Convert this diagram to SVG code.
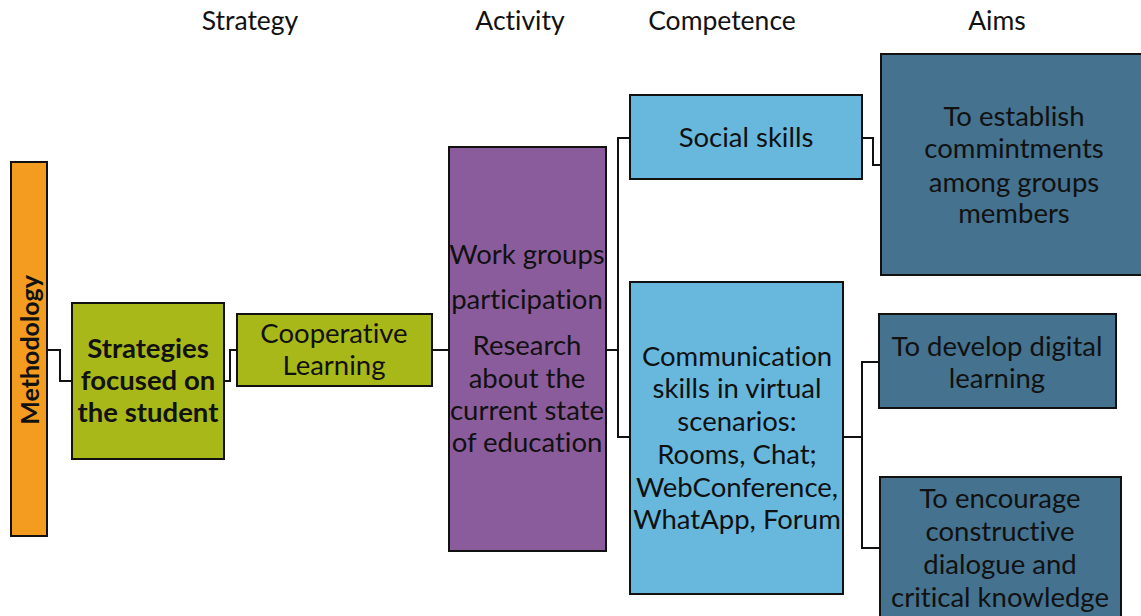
<svg xmlns="http://www.w3.org/2000/svg" width="1141" height="616" viewBox="0 0 1141 616">
<style>
text{font-family:Lato,"Open Sans","Liberation Sans",sans-serif;fill:#111;text-anchor:middle;font-variant-ligatures:none}
.h{font-size:26.5px}
.t{font-size:27.5px}
.b{font-weight:bold}
.n{stroke:#111;stroke-width:2}
.c{fill:none;stroke:#111;stroke-width:2}
</style>
<g id="headers">
<text class="h" x="250" y="30">Strategy</text>
<text class="h" x="520" y="30">Activity</text>
<text class="h" x="722" y="30">Competence</text>
<text class="h" x="997" y="30">Aims</text>
</g>
<g id="connectors">
<polyline class="c" points="47,350 60,350 60,381 72,381"/>
<polyline class="c" points="224,381 230,381 230,350 237,350"/>
<polyline class="c" points="432,350 449,350"/>
<polyline class="c" points="606,350 618,350"/>
<polyline class="c" points="630,138 618,138 618,437 630,437"/>
<polyline class="c" points="862,138 873,138 873,165 881,165"/>
<polyline class="c" points="843,437 862,437"/>
<polyline class="c" points="879,362 862,362 862,548 880,548"/>
</g>
<g id="methodology">
<rect class="n" x="11" y="162" width="36" height="374" fill="#F39C1F"/>
<text class="b" x="0" y="0" font-size="25" transform="translate(39,350) rotate(-90)">Methodology</text>
</g>
<g id="strategies">
<rect class="n" x="72" y="303" width="152" height="156" fill="#A8B819"/>
<text class="t b" x="148" y="358">Strategies</text>
<text class="t b" x="148" y="390">focused on</text>
<text class="t b" x="148" y="422">the student</text>
</g>
<g id="cooperative">
<rect class="n" x="237" y="314" width="195" height="72" fill="#A8B819"/>
<text class="t" x="334" y="343">Cooperative</text>
<text class="t" x="334" y="375">Learning</text>
</g>
<g id="activity">
<rect class="n" x="449" y="147" width="157" height="404" fill="#8B5C9C"/>
<text class="t" x="527" y="264">Work groups</text>
<text class="t" x="527" y="309">participation</text>
<text class="t" x="527" y="355">Research</text>
<text class="t" x="527" y="388">about the</text>
<text class="t" x="527" y="420">current state</text>
<text class="t" x="527" y="452">of education</text>
</g>
<g id="social">
<rect class="n" x="630" y="95" width="232" height="84" fill="#68B8DD"/>
<text class="t" x="746" y="147">Social skills</text>
</g>
<g id="communication">
<rect class="n" x="630" y="282" width="213" height="312" fill="#68B8DD"/>
<text class="t" x="737" y="366">Communication</text>
<text class="t" x="737" y="398">skills in virtual</text>
<text class="t" x="737" y="431">scenarios:</text>
<text class="t" x="737" y="464">Rooms, Chat;</text>
<text class="t" x="737" y="497">WebConference,</text>
<text class="t" x="737" y="529">WhatApp, Forum</text>
</g>
<g id="aim1">
<rect class="n" x="881" y="54" width="264" height="221" fill="#44728F"/>
<text class="t" x="1014" y="126">To establish</text>
<text class="t" x="1014" y="158">commintments</text>
<text class="t" x="1014" y="192">among groups</text>
<text class="t" x="1014" y="223">members</text>
</g>
<g id="aim2">
<rect class="n" x="879" y="314" width="237" height="94" fill="#44728F"/>
<text class="t" x="997" y="356">To develop digital</text>
<text class="t" x="997" y="388">learning</text>
</g>
<g id="aim3">
<rect class="n" x="880" y="477" width="241" height="145" fill="#44728F"/>
<text class="t" x="1000" y="508">To encourage</text>
<text class="t" x="1000" y="541">constructive</text>
<text class="t" x="1000" y="574">dialogue and</text>
<text class="t" x="1000" y="607">critical knowledge</text>
</g>
</svg>
